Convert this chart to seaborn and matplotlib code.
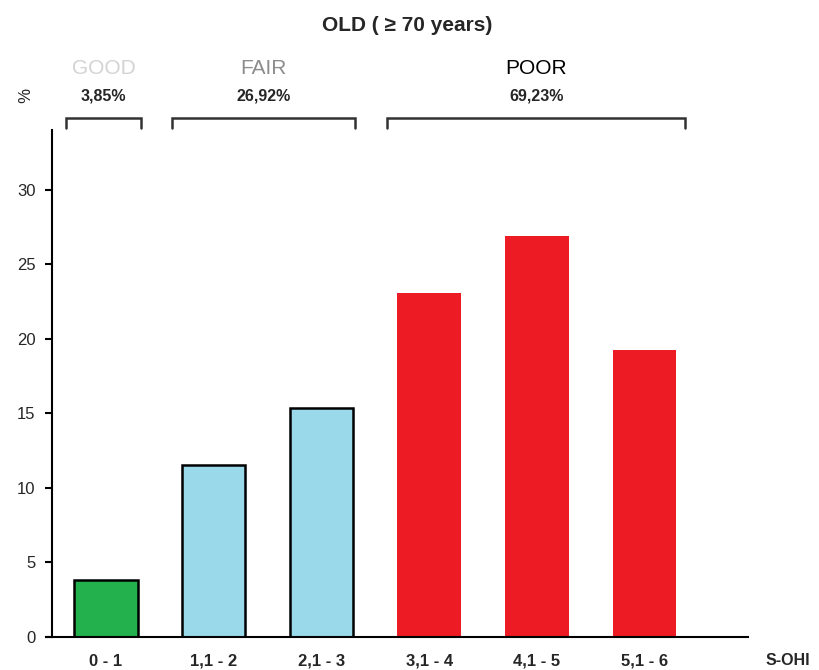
import matplotlib
matplotlib.use("Agg")
import matplotlib.pyplot as plt
import seaborn as sns

# Data
categories = ["0 - 1", "1,1 - 2", "2,1 - 3", "3,1 - 4", "4,1 - 5", "5,1 - 6"]
percent = [3.85, 11.54, 15.38, 23.08, 26.92, 19.23]
bar_colors = ["#22B14C", "#99D9EA", "#99D9EA", "#ED1C24", "#ED1C24", "#ED1C24"]
has_edge = [True, True, True, False, False, False]

groups = ["GOOD", "FAIR", "POOR"]
group_shares = ["3,85%", "26,92%", "69,23%"]
group_colors = ["#D3D3D3", "#8C8C8C", "#000000"]
group_spans = [(-0.37, 0.33), (0.61, 2.31), (2.61, 5.38)]

sns.set_style("white")
plt.rcParams["font.family"] = ["Liberation Sans Narrow", "Liberation Sans", "DejaVu Sans"]

fig = plt.figure(figsize=(8.2, 6.7), dpi=100)
ax = fig.add_axes([0.0561, 0.0493, 0.856, 0.7567])

sns.barplot(x=categories, y=percent, hue=categories, palette=bar_colors,
            legend=False, width=0.59, saturation=1, ax=ax)

for patch, edge in zip(ax.patches, has_edge):
    if edge:
        patch.set_edgecolor("black")
        patch.set_linewidth(1.8)
    else:
        patch.set_linewidth(0)

ax.set_xlim(-0.556, 5.96)
ax.set_ylim(0, 34)
ax.set_yticks([0, 5, 10, 15, 20, 25, 30])
ax.tick_params(axis="y", length=5, width=1.5, color="black", labelsize=12, pad=7, direction="out", left=True)
ax.tick_params(axis="x", length=0, labelsize=12, pad=12)
for lab in ax.get_xticklabels():
    lab.set_fontweight("bold")
ax.set_xlabel("")
ax.set_ylabel("")

for side in ["top", "right"]:
    ax.spines[side].set_visible(False)
ax.spines["left"].set_position(("data", -0.5))
ax.spines["left"].set_linewidth(1.5)
ax.spines["bottom"].set_linewidth(1.5)
ax.spines["left"].set_color("black")
ax.spines["bottom"].set_color("black")

# group brackets above the bars
for (x0, x1) in group_spans:
    ax.plot([x0, x0, x1, x1], [34.1, 34.83, 34.83, 34.1], color="#333333",
            lw=1.8, clip_on=False, solid_joinstyle="miter")

for name, share, col, (x0, x1) in zip(groups, group_shares, group_colors, group_spans):
    xc = (x0 + x1) / 2
    ax.text(xc, 38.1, name, ha="center", va="center", fontsize=15, color=col, clip_on=False)
    ax.text(xc, 36.3, share, ha="center", va="center", fontsize=11.5, fontweight="bold", clip_on=False)

ax.text(-0.79, 36.3, "%", ha="center", va="center", fontsize=12, rotation=-90, clip_on=False)
ax.text(6.33, -1.55, "S-OHI", ha="center", va="center", fontsize=11.5, fontweight="bold", clip_on=False)

fig.text(0.497, 0.962, "OLD ( \u2265 70 years)", ha="center", va="center", fontsize=15, fontweight="bold")

fig.savefig("out.png", dpi=100)
